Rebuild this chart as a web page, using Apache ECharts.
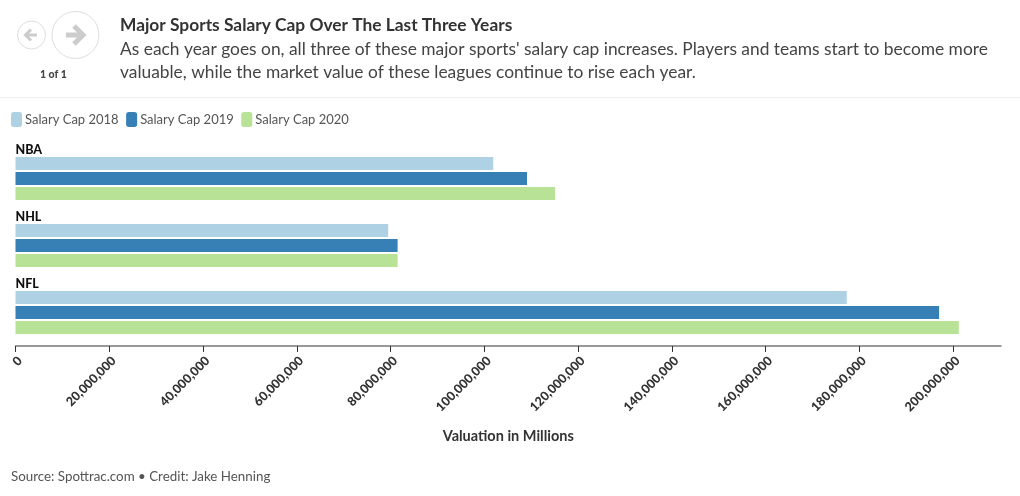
<!DOCTYPE html>
<html><head><meta charset="utf-8">
<style>html,body{margin:0;padding:0;background:#fff}#c{width:1020px;height:496px}</style>
<script src="https://cdn.jsdelivr.net/npm/echarts@6/dist/echarts.min.js"></script>
</head><body><div id="c"></div>
<script>
const categories = ["NBA", "NHL", "NFL"];
const cap2018 = [101900000, 79500000, 177300000];
const cap2019 = [109100000, 81500000, 197000000];
const cap2020 = [115100000, 81500000, 201200000];
const tickValues = [0, 20000000, 40000000, 60000000, 80000000, 100000000, 120000000, 140000000, 160000000, 180000000, 200000000];
const seriesNames = ["Salary Cap 2018", "Salary Cap 2019", "Salary Cap 2020"];
const colors = ["#afd1e4", "#3680b6", "#b8e296"];
const F = "Lato, 'Noto Sans', sans-serif";
const chart = echarts.init(document.getElementById('c'), null, {renderer: 'canvas'});
const mk = (i, d) => ({name: seriesNames[i], type: 'bar', data: d, barWidth: 13, barGap: '15%',
  itemStyle: {color: colors[i]}, silent: true,
  label: i === 0 ? {show: true, position: [0, -13.5], formatter: '{b}', fontFamily: F, fontSize: 12.5, fontWeight: 900, color: '#111'} : {show: false}});
chart.setOption({
  animation: false,
  textStyle: {fontFamily: F},
  title: [
    {text: "Major Sports Salary Cap Over The Last Three Years", left: 115, top: 12,
     textStyle: {fontFamily: F, fontSize: 17.35, fontWeight: 'bold', color: '#333'}},
    {text: "As each year goes on, all three of these major sports' salary cap increases. Players and teams start to become more\nvaluable, while the market value of these leagues continue to rise each year.",
     left: 115, top: 33, textStyle: {fontFamily: F, fontSize: 17.36, fontWeight: 'normal', color: '#444', lineHeight: 23}},
    {text: "1 of 1", left: 35, top: 64, textStyle: {fontFamily: F, fontSize: 10.5, fontWeight: 900, color: '#444'}},
    {text: "Source: Spottrac.com • Credit: Jake Henning", left: 6, top: 465,
     textStyle: {fontFamily: F, fontSize: 13.35, fontWeight: 'normal', color: '#555'}}
  ],
  legend: {left: 6, top: 107, itemWidth: 11, itemHeight: 15, itemGap: 7.5, data: seriesNames, selectedMode: false,
    icon: 'roundRect', textStyle: {fontFamily: F, fontSize: 13, color: '#555', padding: [0,0,0,-2]}},
  grid: {left: 15.5, right: 19, top: 145, height: 201, containLabel: false},
  xAxis: {type: 'value', min: 0, max: 210200000, interval: 20000000,
    splitLine: {show: false},
    axisLine: {show: true, lineStyle: {color: '#777', width: 1.5}},
    axisTick: {show: true, length: 6, customValues: tickValues, lineStyle: {color: '#333'}},
    axisLabel: {rotate: 45, margin: 8, verticalAlign: 'top', customValues: tickValues, fontFamily: F, fontSize: 12.6, fontWeight: 900, color: '#333',
      formatter: v => Number(v).toLocaleString('en-US')},
    name: "Valuation in Millions", nameLocation: 'middle', nameGap: 83,
    nameTextStyle: {fontFamily: F, fontSize: 14.5, fontWeight: 'bold', color: '#333'}},
  yAxis: {type: 'category', data: categories, inverse: true,
    axisLine: {show: false}, axisTick: {show: false}, axisLabel: {show: false}},
  series: [mk(0, cap2018), mk(1, cap2019), mk(2, cap2020)],
  graphic: [
    {type: 'line', silent: true, shape: {x1: 0, y1: 97.5, x2: 1020, y2: 97.5}, style: {stroke: '#eee', lineWidth: 1}},
    {type: 'circle', silent: true, shape: {cx: 31.5, cy: 35, r: 14}, style: {fill: '#fff', stroke: '#ddd', lineWidth: 1}},
    {type: 'circle', silent: true, shape: {cx: 75.5, cy: 35, r: 23.5}, style: {fill: '#fff', stroke: '#ddd', lineWidth: 1}},
    {type: 'polyline', silent: true, shape: {points: [[37,35],[26,35]]}, style: {stroke: '#ccc', lineWidth: 3, fill: null}},
    {type: 'polyline', silent: true, shape: {points: [[31,29.5],[25.5,35],[31,40.5]]}, style: {stroke: '#ccc', lineWidth: 3, fill: null}},
    {type: 'polyline', silent: true, shape: {points: [[66,35],[83,35]]}, style: {stroke: '#ccc', lineWidth: 5, fill: null}},
    {type: 'polyline', silent: true, shape: {points: [[74,26],[83,35],[74,44]]}, style: {stroke: '#ccc', lineWidth: 5, fill: null}}
  ]
});
</script></body></html>
